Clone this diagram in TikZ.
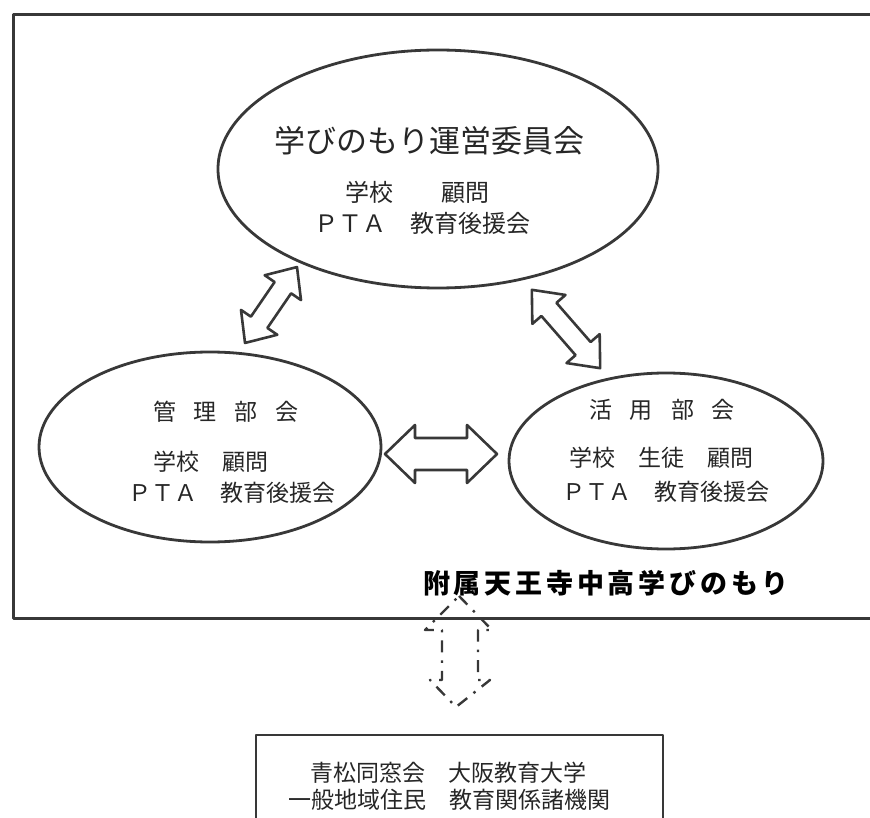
\documentclass[tikz,border=0pt]{standalone}
\usepackage{fontspec}
\setmainfont{Noto Sans CJK JP}
\usetikzlibrary{shapes.geometric}
\newcommand\DArrow[6]{% center, angle, half length, half head width, half shaft width, head length
  \draw[arrowline, shift={#1}, rotate=#2] (-#3,0) -- (-#3+#6,#4) -- (-#3+#6,#5) -- (#3-#6,#5) -- (#3-#6,#4) -- (#3,0) -- (#3-#6,-#4) -- (#3-#6,-#5) -- (-#3+#6,-#5) -- (-#3+#6,-#4) -- cycle;}
\begin{document}
\begin{tikzpicture}[x=1pt,y=-1pt,line join=round,
  ink/.style={draw=black!78},
  frameline/.style={ink,line width=3pt},
  ellnode/.style={ellipse,ink,line width=2.8pt,inner sep=0pt},
  arrowline/.style={ink,line width=2.6pt},
  dasharrow/.style={ink,line width=2.4pt,dash pattern=on 12pt off 8pt on 2.5pt off 8pt},
  txt/.style={text=black!85,inner sep=0pt,anchor=center},
  big/.style={txt,font=\fontsize{31}{31}\selectfont},
  mid/.style={txt,font=\fontsize{24}{24}\selectfont},
  sml/.style={txt,font=\fontsize{23}{23}\selectfont},
  banner/.style={txt,text=black,font=\fontsize{27}{27}\selectfont\bfseries\addfontfeatures{LetterSpace=14}}]
\useasboundingbox (0,0) rectangle (870,818);
\begin{scope}
\clip (0,0) rectangle (870,818);
% outer frame (open to the right)
\draw[frameline] (875,15) -- (13,15) -- (13,618) -- (875,618);
% bottom box (open at the bottom)
\draw[frameline,line width=2.8pt] (256,825) -- (256,735) -- (663,735) -- (663,825);
\end{scope}
% ellipses
\node[ellnode,minimum width=440pt,minimum height=238pt] (top) at (438,169) {};
\node[ellnode,minimum width=342pt,minimum height=190pt] (left) at (210,447) {};
\node[ellnode,minimum width=314pt,minimum height=176pt] (right) at (666,461) {};
% top texts
\node[big] (t1) at (429,141) {学びのもり運営委員会};
\node[mid] (t2) at (417,192) {学校　　顧問};
\node[mid] (t3) at (422,223) {ＰＴＡ　教育後援会};
% left texts
\node[sml] (l1) at (226,412) {管\hspace{18pt}理\hspace{18pt}部\hspace{18pt}会};
\node[sml] (l2) at (211,462) {学校　顧問};
\node[sml] (l3) at (232,493) {ＰＴＡ　教育後援会};
% right texts
\node[sml] (r1) at (662,410) {活\hspace{18pt}用\hspace{18pt}部\hspace{18pt}会};
\node[sml] (r2) at (661,458) {学校　生徒　顧問};
\node[sml] (r3) at (666,492) {ＰＴＡ　教育後援会};
% banner
\node[banner] (ban) at (606,583) {附属天王寺中高学びのもり};
% bottom texts
\node[sml] (b1) at (448,773) {青松同窓会　大阪教育大学};
\node[sml] (b2) at (449,800) {一般地域住民　教育関係諸機関};
% double arrows
\DArrow{(271,305)}{55.6}{46}{22}{10}{25}
\DArrow{(566,329)}{-48.9}{52}{22}{10}{26}
\DArrow{(441,454)}{0}{56}{29}{16}{30}
% dashed double arrow
\draw[dasharrow] (459,596) -- (492,630) -- (478,630) -- (478,680) -- (490,680) -- (456,707) -- (430,680) -- (442,680) -- (442,630) -- (425,630) -- cycle;
\end{tikzpicture}
\end{document}
